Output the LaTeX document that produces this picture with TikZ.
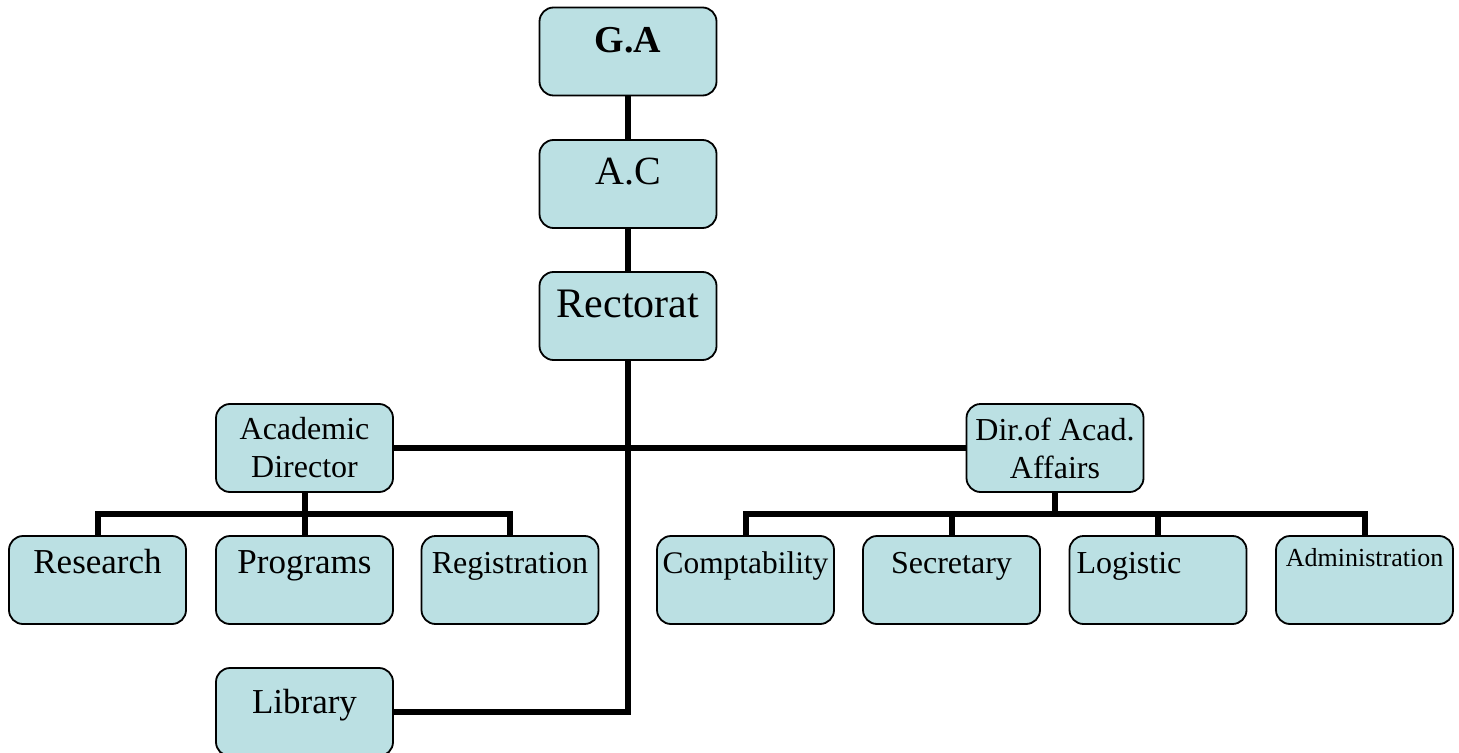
\documentclass[tikz,border=0pt]{standalone}
\usepackage{fontspec}
\setmainfont{Liberation Serif}
\usetikzlibrary{backgrounds}
\definecolor{boxfill}{RGB}{187,224,227}

\begin{document}
\begin{tikzpicture}[x=0.5pt,y=-0.5pt,
  box/.style={draw,line width=0.9pt,fill=boxfill,rounded corners=7pt,
    minimum width=88.5pt,minimum height=44pt,inner sep=0pt,align=center},
  head/.style={box,text height=22.5pt,text depth=21.5pt},
  leaf/.style={box,text height=18.5pt,text depth=25.5pt},
  link/.style={line width=3pt}]
\useasboundingbox (0,0) rectangle (1459,753);

\node[head,font=\bfseries\fontsize{19}{23}\selectfont] (ga) at (628,51.5) {G.A};
\node[head,font=\fontsize{20}{24}\selectfont] (ac) at (628,184) {A.C};
\node[head,font=\fontsize{21}{25}\selectfont] (rect) at (628,316) {Rectorat};

\node[box,font=\fontsize{16}{19}\selectfont] (acad) at (304.5,448) {Academic\\Director};
\node[box,font=\fontsize{16}{19}\selectfont] (daa) at (1055,448) {Dir.of Acad.\\Affairs};

\node[leaf,font=\fontsize{17.5}{21}\selectfont] (res) at (97.5,580) {Research};
\node[leaf,font=\fontsize{17.5}{21}\selectfont] (prog) at (304.5,580) {Programs};
\node[leaf,font=\fontsize{16}{19}\selectfont] (reg) at (510,580) {Registration};

\node[leaf,font=\fontsize{15.7}{19}\selectfont] (comp) at (745.5,580) {Comptability};
\node[leaf,font=\fontsize{16}{19}\selectfont] (sec) at (951.5,580) {Secretary};
\node[leaf,font=\fontsize{16}{19}\selectfont,text width=81.5pt,inner xsep=3.5pt,align=left] (log) at (1158,580) {Logistic};
\node[leaf,font=\fontsize{13}{16}\selectfont,text height=15pt,text depth=29pt] (adm) at (1364.5,580) {Administration};

\node[head,font=\fontsize{17.5}{21}\selectfont] (lib) at (304.5,712) {Library};

\begin{scope}[on background layer]
\coordinate (abus) at (304.5,514);
\coordinate (dbus) at (1055,514);
\draw[link] (ga) -- (ac) -- (rect);
\draw[link] (rect.south) |- (lib.east);
\draw[link] (acad.east) -- (daa.west);
\draw[link] (acad.south) -- (prog.north);
\draw[link] (res.north) |- (abus) -| (reg.north);
\draw[link] (daa.south) -- (dbus);
\draw[link] (comp.north) |- (dbus) -| (adm.north);
\draw[link] (sec.north) -- (sec.north |- dbus);
\draw[link] (log.north) -- (log.north |- dbus);
\end{scope}
\end{tikzpicture}
\end{document}
